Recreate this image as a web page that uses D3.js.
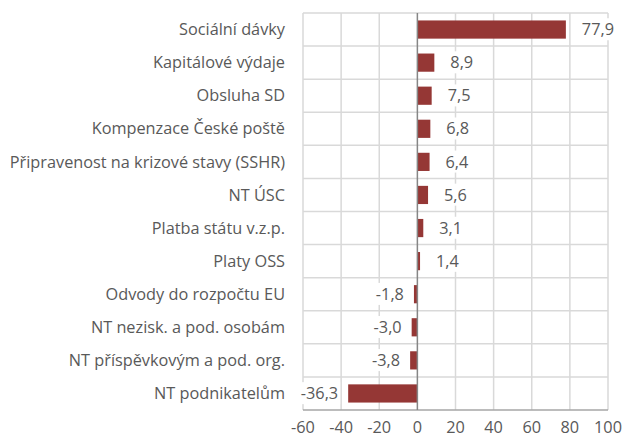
<!DOCTYPE html>
<html><head><meta charset="utf-8">
<script src="https://cdn.jsdelivr.net/npm/d3@7"></script>
<style>body{margin:0;background:#fff}svg{display:block}</style>
</head><body><svg id="c" width="622" height="441"></svg>
<script>
const categories = ["Sociální dávky","Kapitálové výdaje","Obsluha SD","Kompenzace České poště","Připravenost na krizové stavy (SSHR)","NT ÚSC","Platba státu v.z.p.","Platy OSS","Odvody do rozpočtu EU","NT nezisk. a pod. osobám","NT příspěvkovým a pod. org.","NT podnikatelům"];
const values = [77.9,8.9,7.5,6.8,6.4,5.6,3.1,1.4,-1.8,-3.0,-3.8,-36.3];
const xTicks = [-60,-40,-20,0,20,40,60,80,100];

const svg = d3.select("#c");
const font = "'Open Sans', sans-serif";
const fs = 16.3;
const m = {l:303, r:608, t:13, b:410};
const x = d3.scaleLinear().domain([-60,100]).range([m.l,m.r]);
const y = d3.scaleBand().domain(categories).range([m.t,m.b]).paddingInner(0.45).paddingOuter(0.225);
const step = y.step();

const grid = svg.append("g").attr("stroke","#d9d9d9").attr("stroke-width",1.5);
xTicks.filter(t=>t!==0).forEach(t=>grid.append("line").attr("x1",x(t)).attr("x2",x(t)).attr("y1",m.t).attr("y2",m.b));
d3.range(categories.length).forEach(i=>grid.append("line").attr("x1",m.l).attr("x2",m.r).attr("y1",m.t+i*step).attr("y2",m.t+i*step));

svg.append("g").selectAll("rect").data(values).join("rect")
  .attr("x",d=>x(Math.min(0,d))).attr("width",d=>Math.abs(x(d)-x(0)))
  .attr("y",(d,i)=>y(categories[i])).attr("height",y.bandwidth())
  .attr("fill","#953735");

svg.append("line").attr("x1",m.l).attr("x2",m.r).attr("y1",m.b).attr("y2",m.b).attr("stroke","#a6a6a6").attr("stroke-width",1.5);
svg.append("line").attr("x1",x(0)).attr("x2",x(0)).attr("y1",m.t).attr("y2",m.b).attr("stroke","#868686").attr("stroke-width",1.5);

const lab = svg.append("g").attr("font-family",font).attr("font-size",fs).attr("fill","#595959");
values.forEach((d,i)=>{
  const cy = y(categories[i])+y.bandwidth()/2;
  const txt = d.toFixed(1).replace(".",",");
  const t = lab.append("text").attr("y",cy).attr("dy","0.35em").text(txt);
  if(d>=0){ t.attr("x",x(d)+16).attr("text-anchor","start"); }
  else { t.attr("x",x(d)-10).attr("text-anchor","end"); }
  const bb = t.node().getBBox();
  lab.insert("rect","text").attr("x",bb.x-2).attr("y",bb.y).attr("width",bb.width+4).attr("height",bb.height).attr("fill","#fff");
});
lab.selectAll("rect").lower();

const cat = svg.append("g").attr("font-family",font).attr("font-size",fs).attr("fill","#595959");
categories.forEach(c=>cat.append("text").attr("x",285).attr("y",y(c)+y.bandwidth()/2).attr("dy","0.35em").attr("text-anchor","end").text(c));

const ax = svg.append("g").attr("font-family",font).attr("font-size",fs).attr("fill","#595959");
xTicks.forEach(t=>ax.append("text").attr("x",x(t)).attr("y",427).attr("dy","0.35em").attr("text-anchor","middle").text(t));
</script></body></html>
